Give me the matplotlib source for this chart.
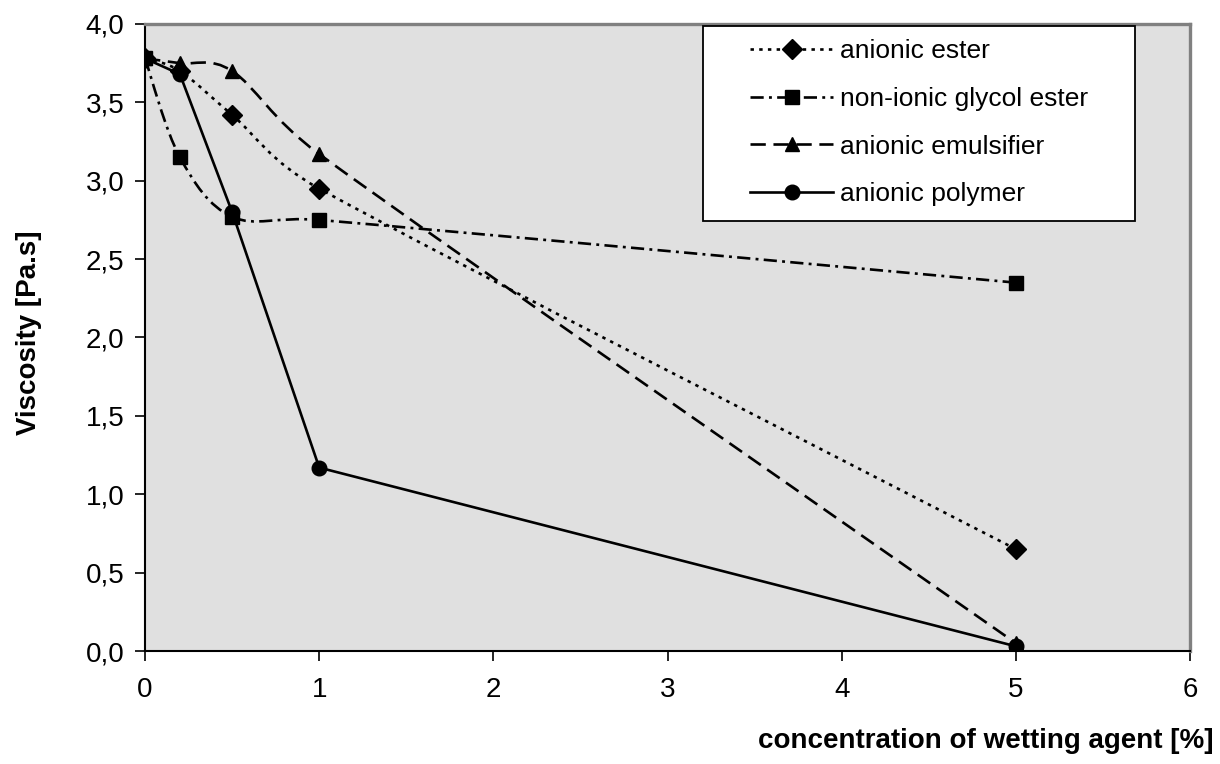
import matplotlib.pyplot as plt
from matplotlib.path import Path
from matplotlib.patches import PathPatch, Rectangle
from matplotlib.lines import Line2D
from matplotlib.ticker import FuncFormatter

plt.rcParams['font.family'] = ['Liberation Sans', 'DejaVu Sans']

# concentration of wetting agent [%]
conc = [0, 0.2, 0.5, 1, 5]

# viscosity [Pa.s]
anionic_ester = [3.78, 3.70, 3.42, 2.95, 0.65]
glycol_ester = [3.78, 3.15, 2.77, 2.75, 2.35]
anionic_emulsifier = [3.78, 3.75, 3.70, 3.17, 0.05]
anionic_polymer = [3.78, 3.68, 2.80, 1.17, 0.03]

labels = ['anionic ester', 'non-ionic glycol ester', 'anionic emulsifier', 'anionic polymer']
values = [anionic_ester, glycol_ester, anionic_emulsifier, anionic_polymer]
markers = ['D', 's', '^', 'o']
msizes = [10, 10, 10, 10.5]
styles = [(0, (1.3, 2.0)), (0, (5, 2, 1.1, 2)), (0, (5.8, 2.9)), '-']
smoothed = [True, True, True, False]
LW = 1.9

FIG_W, FIG_H = 12.2, 7.64
AX_POS = [0.1189, 0.1479, 0.8565, 0.8207]
XMAX, YMAX = 6, 4
# pixels per data unit, for Excel-style smoothing done in screen space
SX = FIG_W * 100 * AX_POS[2] / XMAX
SY = FIG_H * 100 * AX_POS[3] / YMAX


def smooth_path(xs, ys):
    # Excel smoothed line: Bezier segments, control arms 1/6 of the chord,
    # limited to half the segment length (measured in pixels)
    pts = list(zip(xs, ys))
    n = len(pts)

    def dist(a, b):
        return (((b[0] - a[0]) * SX) ** 2 + ((b[1] - a[1]) * SY) ** 2) ** 0.5

    verts = [pts[0]]
    codes = [Path.MOVETO]
    for i in range(n - 1):
        p0 = pts[i - 1] if i > 0 else pts[i]
        p1 = pts[i]
        p2 = pts[i + 1]
        p3 = pts[i + 2] if i + 2 < n else pts[i + 1]
        d12 = dist(p1, p2)
        d02 = dist(p0, p2)
        d13 = dist(p1, p3)
        f = 1 / 6
        if d02 / 6 > d12 / 2:
            f = d12 / 2 / d02
        g = 1 / 6
        if d13 / 6 > d12 / 2:
            g = d12 / 2 / d13
        c1 = (p1[0] + (p2[0] - p0[0]) * f, p1[1] + (p2[1] - p0[1]) * f)
        c2 = (p2[0] - (p3[0] - p1[0]) * g, p2[1] - (p3[1] - p1[1]) * g)
        verts += [c1, c2, p2]
        codes += [Path.CURVE4] * 3
    return Path(verts, codes)


fig = plt.figure(figsize=(FIG_W, FIG_H), dpi=100)
ax = fig.add_axes(AX_POS)
ax.set_facecolor('#e0e0e0')

handles = []
for label, vals, marker, ms, ls, smooth in zip(labels, values, markers, msizes, styles, smoothed):
    if smooth:
        ax.add_patch(PathPatch(smooth_path(conc, vals), facecolor='none', edgecolor='black',
                               lw=LW, linestyle=ls, zorder=2))
        ax.plot(conc, vals, ls='none', marker=marker, ms=ms, color='black', zorder=3)
    else:
        ax.plot(conc, vals, ls=ls, lw=LW, marker=marker, ms=ms, color='black', zorder=3)
    handles.append(Line2D([], [], color='black', lw=LW, ls=ls, marker=marker, ms=ms))

ax.set_xlim(0, XMAX)
ax.set_ylim(0, YMAX)
ax.set_xticks(range(0, 7))
ax.set_yticks([i * 0.5 for i in range(9)])
ax.yaxis.set_major_formatter(FuncFormatter(lambda v, p: f'{v:.1f}'.replace('.', ',')))
ax.tick_params(labelsize=20, direction='out', length=7, width=1.2, color='black')
ax.tick_params(axis='y', pad=8)
ax.tick_params(axis='x', pad=12)

for side in ('left', 'bottom'):
    ax.spines[side].set_color('black')
    ax.spines[side].set_linewidth(1.5)
for side in ('top', 'right'):
    ax.spines[side].set_color('#808080')
    ax.spines[side].set_linewidth(2.4)

fig.text(29 / 1220, 1 - 333 / 764, 'Viscosity [Pa.s]', fontsize=20, fontweight='bold',
         rotation=90, ha='center', va='center')
fig.text(1213 / 1220, 1 - 741 / 764, 'concentration of wetting agent [%]', fontsize=20,
         fontweight='bold', ha='right', va='center')

# legend box drawn as a plain white rectangle, entries placed inside it
ax.add_patch(Rectangle((0.534, 0.685), 0.413, 0.312, transform=ax.transAxes,
                       facecolor='white', edgecolor='black', lw=1.3, zorder=4))
leg = ax.legend(handles, labels, loc='upper left', bbox_to_anchor=(0.579, 0.976),
                fontsize=19, frameon=False, handlelength=3.15, handletextpad=0.25,
                labelspacing=0.9, borderpad=0, borderaxespad=0)
leg.set_zorder(5)

fig.savefig('out.png', dpi=100)
